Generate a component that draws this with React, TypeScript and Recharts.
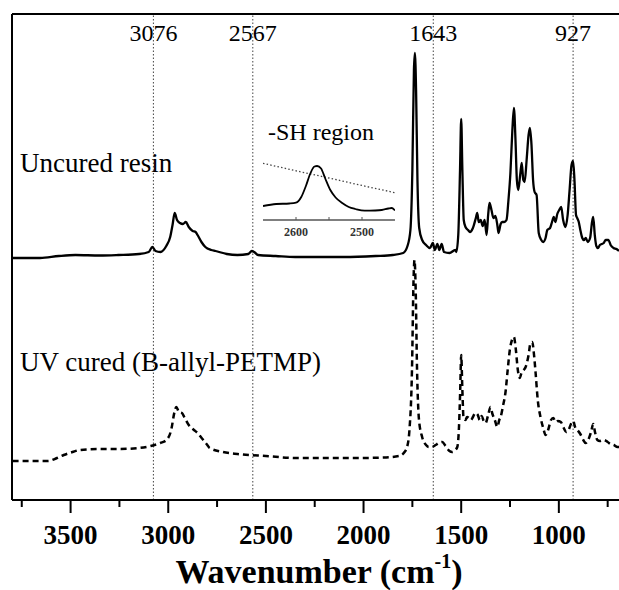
import { LineChart, Line, XAxis, YAxis, ReferenceLine, Label } from 'recharts'

const SERIF = "'Liberation Serif', 'Times New Roman', Times, serif"

// Uncured resin trace (offset upwards), absorbance in a.u.
const uncuredWn = [
  3797, 3700, 3656, 3560, 3475, 3350, 3255, 3150, 3100, 3081, 3065, 3040, 3010, 2990, 2978, 2967, 2955,
  2940, 2925, 2910, 2895, 2875, 2860, 2850, 2830, 2810, 2780, 2758, 2700, 2646, 2590, 2572, 2560, 2540,
  2450, 2350, 2242, 2100, 1938, 1850, 1797, 1775, 1760, 1750, 1742, 1737, 1731, 1724, 1715, 1700, 1680,
  1660, 1645, 1635, 1622, 1612, 1600, 1588, 1560, 1530, 1525, 1515, 1506, 1500, 1494, 1487, 1478, 1465,
  1455, 1440, 1425, 1418, 1410, 1400, 1390, 1380, 1370, 1362, 1355, 1345, 1335, 1325, 1315, 1309, 1298,
  1290, 1280, 1268, 1258, 1248, 1238, 1230, 1222, 1215, 1208, 1198, 1190, 1182, 1175, 1165, 1155, 1148,
  1140, 1132, 1124, 1114, 1103, 1090, 1080, 1068, 1059, 1045, 1035, 1026, 1018, 1008, 998, 988, 978, 966,
  955, 945, 935, 927, 920, 912, 906, 898, 890, 880, 872, 862, 852, 840, 830, 824, 816, 808, 800, 790, 780,
  770, 760, 746, 735, 720, 705, 692,
]
const uncuredAbs = [
  2.42, 2.42, 2.42, 2.44, 2.45, 2.445, 2.45, 2.46, 2.48, 2.53, 2.49, 2.48, 2.54, 2.63, 2.75, 2.87, 2.8,
  2.77, 2.76, 2.78, 2.73, 2.69, 2.68, 2.65, 2.58, 2.53, 2.5, 2.49, 2.46, 2.45, 2.46, 2.49, 2.48, 2.45,
  2.44, 2.43, 2.43, 2.43, 2.44, 2.45, 2.47, 2.54, 2.7, 3.3, 4.3, 4.47, 4.1, 3.2, 2.72, 2.6, 2.55,
  2.52, 2.57, 2.5, 2.56, 2.5, 2.56, 2.48, 2.47, 2.5, 2.48, 2.65, 3.3, 3.81, 3.3, 2.8, 2.73, 2.7,
  2.68, 2.72, 2.82, 2.87, 2.78, 2.8, 2.74, 2.8, 2.65, 2.85, 2.97, 2.9, 2.82, 2.84, 2.75, 2.67, 2.76,
  2.78, 2.78, 2.8, 3.0, 3.27, 3.7, 3.92, 3.6, 3.2, 3.1, 3.25, 3.37, 3.2, 3.18, 3.4, 3.65, 3.72,
  3.55, 3.2, 3.08, 3.05, 2.67, 2.6, 2.58, 2.62, 2.7, 2.72, 2.78, 2.83, 2.78, 2.86, 2.9, 2.93, 2.8, 2.73,
  2.85, 3.1, 3.35, 3.39, 3.2, 2.85, 2.82, 2.78, 2.7, 2.62, 2.6, 2.62, 2.58, 2.62, 2.78, 2.83, 2.65, 2.54, 2.52, 2.55, 2.56,
  2.57, 2.6, 2.6, 2.55, 2.52, 2.51, 2.49,
]

// UV cured (B-allyl-PETMP) trace, absorbance in a.u.
const curedWn = [
  3797, 3700, 3615, 3570, 3535, 3490, 3453, 3350, 3252, 3150, 3090, 3040, 3009, 2985, 2968, 2959, 2945,
  2930, 2918, 2895, 2868, 2850, 2829, 2800, 2788, 2720, 2645, 2500, 2343, 2200, 2041, 1900, 1817, 1790,
  1777, 1765, 1752, 1744, 1739, 1733, 1726, 1716, 1700, 1680, 1666, 1650, 1631, 1615, 1597, 1580, 1560,
  1546, 1530, 1520, 1512, 1505, 1500, 1494, 1488, 1478, 1470, 1460, 1450, 1440, 1428, 1415, 1405, 1395,
  1385, 1375, 1362, 1350, 1340, 1328, 1315, 1305, 1298, 1285, 1273, 1262, 1251, 1240, 1230, 1220, 1210,
  1200, 1190, 1180, 1170, 1155, 1145, 1136, 1127, 1119, 1108, 1094, 1080, 1068, 1055, 1040, 1029, 1015,
  1005, 990, 975, 962, 950, 938, 927, 915, 905, 890, 875, 863, 850, 835, 824, 815, 803, 790, 770, 750,
  735, 718, 700, 692,
]
const curedAbs = [
  0.39, 0.39, 0.39, 0.42, 0.45, 0.48, 0.5, 0.51, 0.51, 0.52, 0.54, 0.57, 0.6, 0.7, 0.88, 0.93, 0.88,
  0.87, 0.83, 0.75, 0.7, 0.67, 0.62, 0.55, 0.52, 0.48, 0.46, 0.44, 0.42, 0.42, 0.42, 0.425, 0.44, 0.48,
  0.53, 0.7, 1.3, 2.2, 2.4, 2.1, 1.3, 0.8, 0.63, 0.55, 0.53, 0.53, 0.55, 0.57, 0.58, 0.54, 0.49,
  0.48, 0.5, 0.53, 0.7, 1.1, 1.45, 1.1, 0.82, 0.8, 0.83, 0.82, 0.8, 0.83, 0.87, 0.85, 0.8, 0.84,
  0.79, 0.77, 0.85, 0.93, 0.86, 0.8, 0.73, 0.8, 0.83, 0.95, 1.08, 1.3, 1.5, 1.6, 1.63, 1.5, 1.3,
  1.22, 1.28, 1.3, 1.33, 1.45, 1.57, 1.58, 1.45, 1.27, 1.0, 0.83, 0.72, 0.65, 0.7, 0.8, 0.82, 0.78,
  0.79, 0.78, 0.72, 0.68, 0.7, 0.76, 0.79, 0.72, 0.7, 0.66, 0.6, 0.57, 0.6, 0.68, 0.76, 0.68, 0.6, 0.59, 0.6, 0.58,
  0.56, 0.55, 0.53, 0.53,
]

// -SH stretching region, enlarged
const shWn = [
  2650, 2630, 2610, 2600, 2592, 2585, 2578, 2572, 2568, 2562, 2556, 2548, 2540, 2530, 2520, 2510, 2496,
  2480, 2470, 2460, 2455, 2450,
]
const shUncured = [
  1.4, 1.6, 1.65, 1.73, 2.3, 3.4, 4.7, 5.35, 5.4, 5.15, 4.2, 3.0, 2.25, 1.7, 1.3, 1.1, 0.93,
  0.95, 1.0, 1.15, 1.2, 0.95,
]
const shCuredWn = [2650, 2600, 2550, 2500, 2450]
const shCured = [5.67, 4.92, 4.2, 3.45, 2.73]

const bandMarkers = [3076, 2567, 1643, 927]
const wnTicks = [3750, 3500, 3250, 3000, 2750, 2500, 2250, 2000, 1750, 1500, 1250, 1000, 750]
const wnLabels = [3500, 3000, 2500, 2000, 1500, 1000]
const shTicks = [2600, 2550, 2500]
const shLabels = [2600, 2500]

const WN_DOMAIN: [number, number] = [692, 3800]
const Y_TOP = 4.86

const zip = (wn: number[], a: number[]) => wn.map((w, i) => ({ wn: w, a: a[i] }))
const uncured = zip(uncuredWn, uncuredAbs)
const cured = zip(curedWn, curedAbs)
const shSolid = zip(shWn, shUncured)
const shDotted = zip(shCuredWn, shCured)

function WnTick({ x, y, payload }: any) {
  const v = payload.value
  const major = wnLabels.includes(v)
  return (
    <g>
      <line x1={x} x2={x} y1={y} y2={y + (major ? 13 : 7)} stroke="#000" strokeWidth={2} />
      {major && (
        <text x={x} y={y + 44} textAnchor="middle" fontFamily={SERIF} fontWeight="bold" fontSize={27} fill="#000">
          {v}
        </text>
      )}
    </g>
  )
}

function ShTick({ x, y, payload }: any) {
  const v = payload.value
  return (
    <g>
      <line x1={x} x2={x} y1={y} y2={y - 3} stroke="#555" strokeWidth={1} />
      {shLabels.includes(v) && (
        <text x={x} y={y + 16} textAnchor="middle" fontFamily={SERIF} fontWeight="bold" fontSize={12} fill="#333">
          {v}
        </text>
      )}
    </g>
  )
}

const bandLabel = (text: number) => (props: any) => {
  const vb = props.viewBox || {}
  return (
    <text x={vb.x} y={(vb.y ?? 14) + 27} textAnchor="middle" fontFamily={SERIF} fontSize={24} fill="#000">
      {text}
    </text>
  )
}

const axisTitle = (props: any) => {
  const vb = props.viewBox || {}
  return (
    <text x={319} y={(vb.y ?? 500) + 83} textAnchor="middle" fontFamily={SERIF} fontWeight="bold" fontSize={34} fill="#000">
      Wavenumber (cm
      <tspan fontSize={20} dy={-15}>-1</tspan>
      <tspan dy={15}>)</tspan>
    </text>
  )
}

export default function App() {
  return (
    <div style={{ position: 'absolute', left: 0, top: 0, width: 619, height: 590, background: '#fff' }}>
      <LineChart width={619} height={590} margin={{ top: 13, right: 0, bottom: 0, left: 11 }}>
        <XAxis
          type="number"
          dataKey="wn"
          domain={WN_DOMAIN}
          reversed
          allowDataOverflow
          ticks={wnTicks}
          interval={0}
          tick={<WnTick />}
          tickLine={false}
          tickSize={0}
          tickMargin={0}
          height={90}
          axisLine={{ stroke: '#000', strokeWidth: 2 }}
        >
          <Label content={axisTitle} />
        </XAxis>
        {/* top frame edge */}
        <XAxis
          xAxisId="top"
          orientation="top"
          type="number"
          dataKey="wn"
          domain={WN_DOMAIN}
          reversed
          allowDataOverflow
          tick={false}
          tickLine={false}
          height={1}
          axisLine={{ stroke: '#000', strokeWidth: 2 }}
        />
        <YAxis
          type="number"
          domain={[0, Y_TOP]}
          allowDataOverflow
          width={1}
          tick={false}
          tickLine={false}
          axisLine={{ stroke: '#000', strokeWidth: 2 }}
        />
        {bandMarkers.map((b) => (
          <ReferenceLine key={b} x={b} stroke="#444" strokeWidth={1} strokeDasharray="1.5 2" label={bandLabel(b)} />
        ))}
        <Line
          data={uncured}
          dataKey="a"
          type="monotone"
          stroke="#000"
          strokeWidth={2.3}
          dot={false}
          isAnimationActive={false}
        />
        <Line
          data={cured}
          dataKey="a"
          type="monotone"
          stroke="#000"
          strokeWidth={2.5}
          strokeDasharray="6 4"
          dot={false}
          isAnimationActive={false}
        />
        <text x={20} y={172} fontFamily={SERIF} fontSize={27} fill="#000">
          Uncured resin
        </text>
        <text x={20} y={371} fontFamily={SERIF} fontSize={27} fill="#000">
          UV cured (B-allyl-PETMP)
        </text>
        <text x={268} y={140} fontFamily={SERIF} fontSize={24} fill="#000">
          -SH region
        </text>
      </LineChart>

      {/* inset: -SH band */}
      <div style={{ position: 'absolute', left: 253, top: 145 }}>
        <LineChart width={152} height={100} margin={{ top: 5, right: 10, bottom: 0, left: 10 }}>
          <XAxis
            type="number"
            dataKey="wn"
            domain={[2450, 2650]}
            reversed
            allowDataOverflow
            ticks={shTicks}
            interval={0}
            tick={<ShTick />}
            tickLine={false}
            tickSize={0}
            tickMargin={0}
            height={25}
            axisLine={{ stroke: '#555', strokeWidth: 1.5 }}
          />
          <YAxis hide type="number" domain={[0, 7]} allowDataOverflow />
          <Line
            data={shDotted}
            dataKey="a"
            type="linear"
            stroke="#444"
            strokeWidth={1.3}
            strokeDasharray="1.5 2.2"
            dot={false}
            isAnimationActive={false}
          />
          <Line
            data={shSolid}
            dataKey="a"
            type="monotone"
            stroke="#000"
            strokeWidth={1.8}
            dot={false}
            isAnimationActive={false}
          />
        </LineChart>
      </div>
    </div>
  )
}
